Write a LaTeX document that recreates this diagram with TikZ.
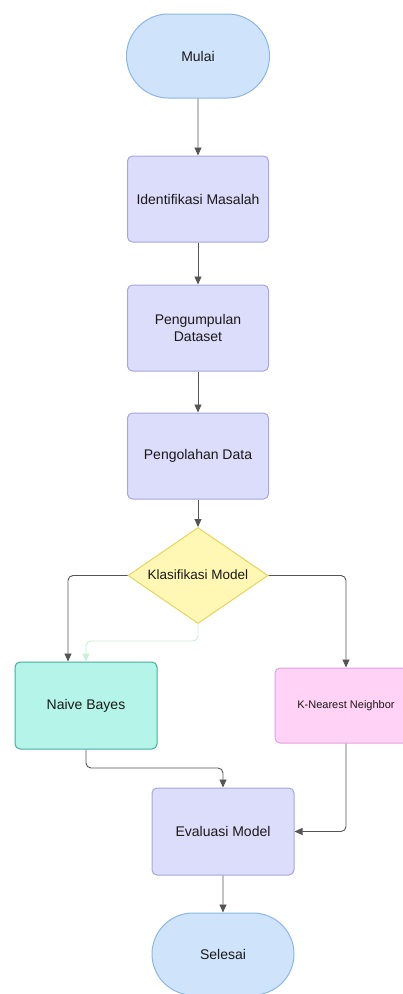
\documentclass[tikz,border=0pt]{standalone}
\usepackage{fontspec}
\setmainfont{Liberation Sans}
\usetikzlibrary{arrows.meta,shapes.geometric,shapes.misc}
\definecolor{termfill}{HTML}{CFE4FB}
\definecolor{termdraw}{HTML}{8DB6E2}
\definecolor{procfill}{HTML}{DCDCFB}
\definecolor{procdraw}{HTML}{A8A5E0}
\definecolor{decfill}{HTML}{FFF7B3}
\definecolor{decdraw}{HTML}{E6D65C}
\definecolor{nbfill}{HTML}{B4F4E9}
\definecolor{nbdraw}{HTML}{45AE9E}
\definecolor{knnfill}{HTML}{FFD2F6}
\definecolor{knndraw}{HTML}{E4A2DC}
\definecolor{linec}{HTML}{555555}
\definecolor{greenline}{HTML}{CDEFD6}
\tikzset{
  base/.style={font=\fontsize{14}{16.5}\selectfont, text=black!90, align=center, line width=1pt, inner sep=0pt},
  term/.style={base, rounded rectangle, fill=termfill, draw=termdraw, minimum width=143, minimum height=84},
  proc/.style={base, rectangle, rounded corners=5, fill=procfill, draw=procdraw, minimum width=141, minimum height=86},
  dec/.style={base, diamond, fill=decfill, draw=decdraw, minimum width=140, minimum height=96, aspect=1.46},
  conn/.style={draw=linec, line width=0.9pt, rounded corners=5, -{Triangle[length=8,width=7]}},
}
\begin{document}
\begin{tikzpicture}[x=1pt,y=-1pt]
\clip (0,0) rectangle (403,994);
\fill[white] (0,0) rectangle (403,994);
\node[term] (mulai) at (198,56) {Mulai};
\node[proc] (ident) at (198,199) {Identifikasi Masalah};
\node[proc] (kumpul) at (198,328) {Pengumpulan\\Dataset};
\node[proc] (olah) at (198,456) {Pengolahan Data};
\node[dec] (klas) at (198,575.5) {};
\node[base, font=\fontsize{13.5}{16}\selectfont] (klast) at (198,575) {Klasifikasi Model};
\node[proc, fill=nbfill, draw=nbdraw, minimum width=142, minimum height=87] (nb) at (86,705.5) {Naive Bayes};
\node[proc, fill=knnfill, draw=knndraw, minimum width=142, minimum height=75, font=\fontsize{11}{13}\selectfont] (knn) at (346,705.5) {K-Nearest Neighbor};
\node[proc, minimum width=142, minimum height=87] (eval) at (223,831.5) {Evaluasi Model};
\node[term, minimum width=142, minimum height=82] (selesai) at (223,954) {Selesai};

\draw[conn] (mulai) -- (ident);
\draw[conn] (ident) -- (kumpul);
\draw[conn] (kumpul) -- (olah);
\draw[conn] (olah) -- (klas);
\draw[conn] (klas.west) -| (68,0 |- nb.north);
\draw[conn, draw=greenline] (klas.south) |- (150,641) -- (86,641) -- (nb.north);
\draw[conn] (klas.east) -| (knn.north);
\draw[conn] (nb.south) |- (150,768) -| (eval.north);
\draw[conn] (knn.south) |- (eval.east);
\draw[conn] (eval) -- (selesai);
\end{tikzpicture}
\end{document}
